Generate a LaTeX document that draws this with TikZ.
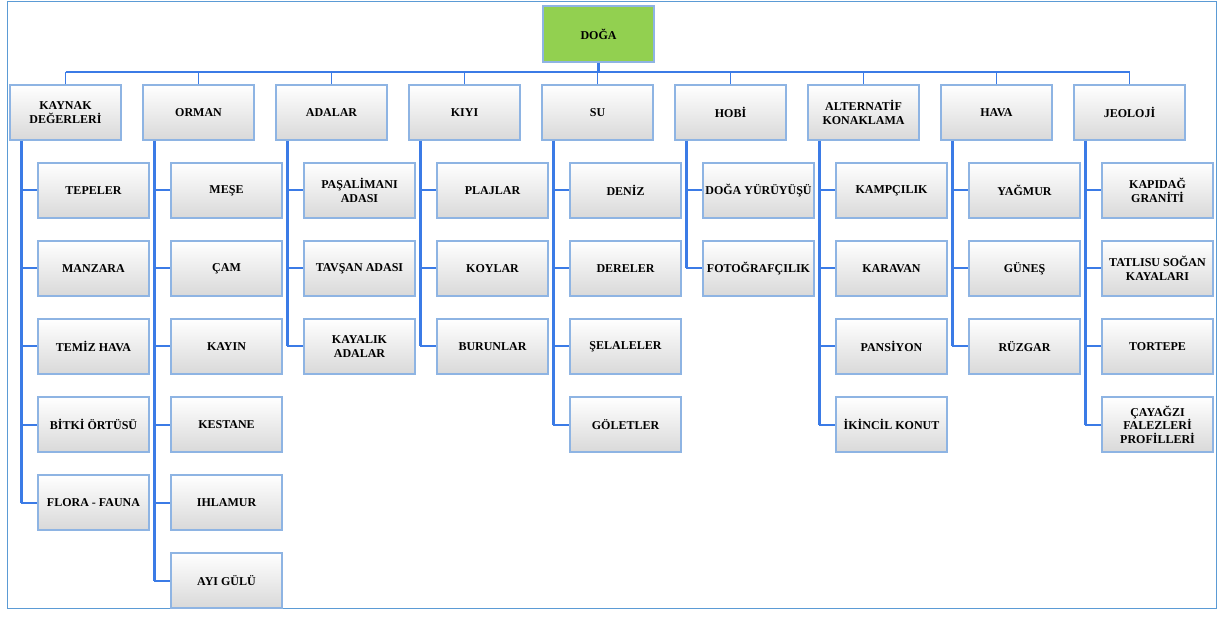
\documentclass[tikz,border=0pt]{standalone}
\usepackage{fontspec}
\setmainfont{Liberation Serif}
\usetikzlibrary{calc, shadows}

\definecolor{linkblue}{HTML}{3B7BE6}
\definecolor{boxblue}{HTML}{8EB4E3}
\definecolor{framblue}{HTML}{5B9BD5}
\definecolor{rootgreen}{HTML}{92D050}

\begin{document}
\begin{tikzpicture}[
    x=1pt, y=-1pt,
    box/.style={rectangle, draw=boxblue, line width=1.2pt, top color=white, bottom color=black!15,
        minimum width=111pt, minimum height=55pt, inner sep=1pt, align=center,
        font=\bfseries\fontsize{12}{13.5}\selectfont,
        drop shadow={opacity=0.18, shadow xshift=1.2pt, shadow yshift=-1.2pt}},
    rootbox/.style={rectangle, draw=boxblue, line width=1.2pt, fill=rootgreen,
        minimum width=111pt, minimum height=56pt, font=\bfseries\fontsize{12}{13.5}\selectfont,
        drop shadow={opacity=0.18, shadow xshift=1.2pt, shadow yshift=-1.2pt}},
    drop/.style={linkblue, line width=1.8pt},
    bus/.style={linkblue, line width=2.4pt},
    trunk/.style={linkblue, line width=2.6pt},
    twig/.style={linkblue, line width=2pt},
    frame/.style={framblue, line width=1pt}
]

% -------- Layout --------
\def\xfirst{10}
\def\xgap{133}
\def\yhead{112.5}
\def\ykid{190.5}
\def\ykidgap{78}
\def\ybus{72}

\useasboundingbox (0,0) rectangle (1218,617);
\draw[frame] (7,2) rectangle (1216,608);

% -------- Root --------
\node[rootbox] (root) at (598.5,34) {DOĞA};
\coordinate (bus) at (598.5,\ybus);

% -------- Category headers --------
\foreach \i/\name in {1/{KAYNAK\\DEĞERLERİ}, 2/{ORMAN}, 3/{ADALAR}, 4/{KIYI}, 5/{SU},
                      6/{HOBİ}, 7/{ALTERNATİF\\KONAKLAMA}, 8/{HAVA}, 9/{JEOLOJİ}} {
    \pgfmathsetmacro{\x}{\xfirst + (\i-1)*\xgap + 55.5}

    \node[box] (h\i) at (\x,\yhead) {\name};
    \coordinate (t\i) at ($(h\i.south west)+(12,0)$);
}

% -------- Children --------
\foreach \i/\kids in {
    1/{TEPELER, MANZARA, TEMİZ HAVA, BİTKİ ÖRTÜSÜ, FLORA - FAUNA},
    2/{MEŞE, ÇAM, KAYIN, KESTANE, IHLAMUR, AYI GÜLÜ},
    3/{{PAŞALİMANI\\ADASI}, TAVŞAN ADASI, {KAYALIK\\ADALAR}},
    4/{PLAJLAR, KOYLAR, BURUNLAR},
    5/{DENİZ, DERELER, ŞELALELER, GÖLETLER},
    6/{DOĞA YÜRÜYÜŞÜ, FOTOĞRAFÇILIK},
    7/{KAMPÇILIK, KARAVAN, PANSİYON, İKİNCİL KONUT},
    8/{YAĞMUR, GÜNEŞ, RÜZGAR},
    9/{{KAPIDAĞ\\GRANİTİ}, {TATLISU SOĞAN\\KAYALARI}, TORTEPE, {ÇAYAĞZI\\FALEZLERİ\\PROFİLLERİ}}} {
    \foreach \kid [count=\j] in \kids {
        \pgfmathsetmacro{\x}{\xfirst + (\i-1)*\xgap + 28 + 55.5}
        \pgfmathsetmacro{\y}{\ykid + (\j-1)*\ykidgap}

        \node[box] (c\i-\j) at (\x,\y) {\kid};
        \draw[twig] (t\i |- c\i-\j.west) -- (c\i-\j.west);
    }
}

% -------- Trunks (down to last child) --------
\foreach \i/\n in {1/5, 2/6, 3/3, 4/3, 5/4, 6/2, 7/4, 8/3, 9/4} {
    \draw[trunk] (t\i) -- (t\i |- c\i-\n.west);
}

% -------- Bus --------
\draw[bus] (h1.north |- bus) -- (h9.north |- bus);
\draw[bus, line width=3.4pt] (root.south) -- (bus);
\foreach \i in {1,...,9} {
    \draw[drop] (h\i.north) -- (h\i.north |- bus);
}

\end{tikzpicture}
\end{document}
